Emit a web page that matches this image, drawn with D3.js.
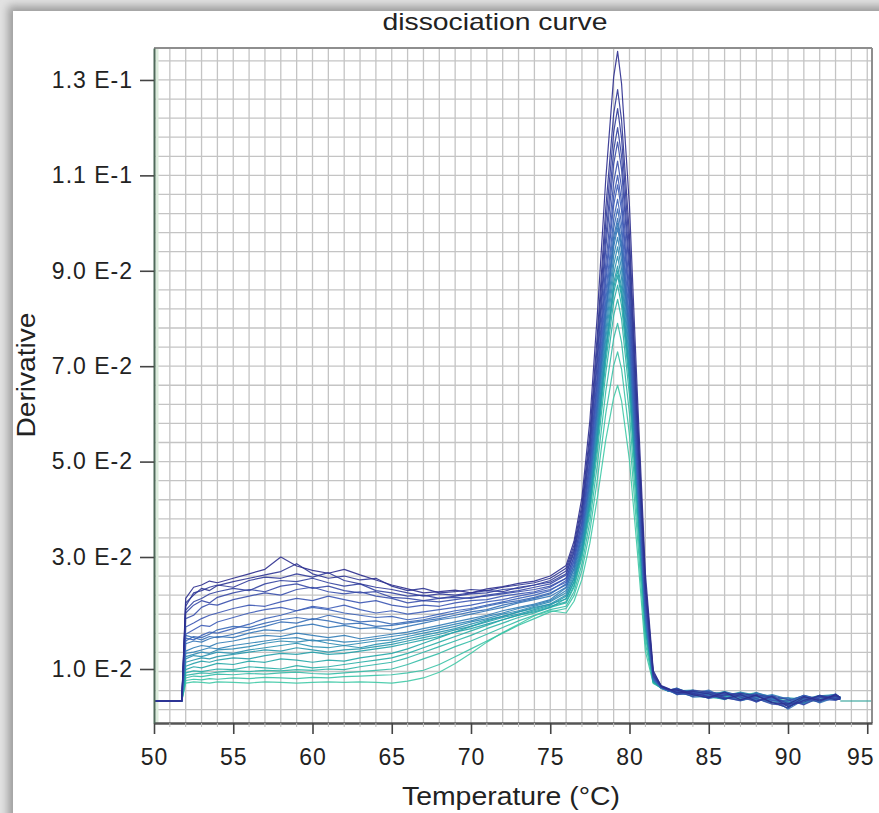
<!DOCTYPE html>
<html><head><meta charset="utf-8">
<script src="https://cdn.jsdelivr.net/npm/d3@7"></script>
<style>html,body{margin:0;padding:0;background:#fff;} svg{display:block;}</style>
</head><body>
<svg id="chart" width="879" height="813"></svg>
<script>
// Temperature samples (°C) shared by all wells
const temps = [50, 51.75, 52, 52.5, 53, 53.5, 54, 55, 56, 57, 58, 59, 60, 61, 62, 63, 64, 65, 66, 67, 68, 69, 70, 71, 72, 73, 74, 75,
  76, 76.5, 77, 77.5, 78, 78.5, 79, 79.25, 79.5, 80, 80.5, 81, 81.5, 82, 82.5,
  83, 84, 85, 86, 87, 88, 89, 90, 91, 92, 93, 93.3];
// Derivative values, in units of 1E-4
const UNIT = 1e-4;
const w01 = [0,0, 226,246,250,257,254,262,270,278,300,284,276,271,278,268,259,250,243,236,238,241,236,243,247,253,257,266, 285,333,425,586,823,1091,1306,1360,1292,1034,639,272,95,46,36, 34,20,10,28,4,18,-6,-10,14,0,20,10];
const w02 = [0,0, 218,232,244,240,249,256,262,268,274,288,270,262,266,259,262,248,240,244,236,238,242,240,246,250,254,262, 280,325,410,560,780,1030,1229,1280,1216,973,602,256,90,48,38, 26,30,22,6,20,0,14,-18,2,16,4,6];
const w03 = [0,0, 212,236,240,246,250,246,258,264,262,270,264,272,258,252,246,242,236,230,234,232,236,240,238,246,250,258, 275,318,400,545,758,999,1190,1240,1178,942,583,248,85,44,34, 38,24,14,18,24,16,-4,-22,12,4,16,12];
const w04 = [0,0, 205,220,226,234,238,244,240,252,258,256,262,254,248,252,240,236,230,232,226,230,234,236,242,244,250,255, 270,312,391,530,735,968,1152,1200,1140,912,564,240,82,47,36, 22,34,28,10,2,20,12,-8,-4,18,8,8];
const w05 = [0,0, 200,214,222,218,228,236,242,238,248,252,244,248,240,236,238,228,226,222,226,228,226,232,236,240,246,252, 268,309,385,521,719,945,1123,1170,1112,889,550,234,80,43,33, 30,14,26,22,12,-2,16,4,-12,10,14,6];
const w06 = [0,0, 190,196,210,216,214,224,230,236,232,242,246,238,234,238,230,226,218,222,220,224,228,230,234,238,242,248, 262,301,375,505,696,913,1085,1130,1074,859,531,226,78,45,35, 20,28,12,24,18,8,-10,-14,8,-4,22,10];
const w07 = [0,0, 175,182,190,196,200,208,214,212,220,226,222,230,224,218,222,214,210,214,212,218,222,224,230,234,238,246, 262,300,371,497,681,890,1056,1100,1045,836,517,220,76,44,34, 40,18,24,8,14,22,2,0,18,6,2,8];
const w08 = [0,0, 162,170,178,176,184,192,200,206,210,204,212,208,214,206,200,204,198,202,206,210,214,220,224,230,236,242, 255,292,362,486,668,874,1037,1080,1026,821,508,216,75,42,32, 28,26,8,20,24,-4,18,-16,0,12,18,10];
const w09 = [0,0, 155,152,160,166,164,172,180,190,196,204,210,206,200,196,192,194,188,192,198,204,208,214,220,226,232,240, 258,294,361,480,654,852,1008,1050,998,798,494,210,74,46,37, 24,20,30,12,0,16,8,10,-10,14,6,6];
const w10 = [0,0, 150,158,156,162,170,176,174,182,188,192,188,196,190,184,186,180,184,188,194,200,206,212,218,222,228,236, 250,285,351,468,640,835,989,1030,979,783,484,206,72,43,33, 34,30,16,26,20,4,-2,-6,14,2,20,12];
const w11 = [0,0, 160,156,152,158,156,162,170,176,184,182,190,186,180,182,176,178,182,186,190,196,202,206,214,220,226,234, 252,286,351,464,631,820,970,1010,960,768,475,202,71,41,31, 22,24,34,10,6,26,12,-26,4,18,8,8];
const w12 = [0,0, 145,150,148,154,158,156,164,170,168,176,180,174,178,172,174,170,176,182,188,192,198,204,210,218,224,230, 246,279,343,454,618,804,950,990,941,752,465,198,69,44,34, 36,12,14,26,18,8,2,0,16,-6,12,10];
const w13 = [0,0, 132,138,142,140,146,150,156,160,158,164,160,156,160,154,158,162,166,172,178,184,190,196,204,210,216,224, 245,279,343,456,623,811,960,1000,950,760,470,200,70,42,33, 26,32,18,4,26,14,6,-12,-2,10,22,8];
const w14 = [0,0, 128,130,134,138,136,142,146,150,154,156,150,152,148,150,154,158,162,168,174,180,186,194,200,208,214,222, 240,273,335,444,605,788,931,970,922,737,456,194,68,40,30, 30,22,28,20,2,10,20,6,0,14,6,6];
const w15 = [0,0, 122,126,130,128,134,136,140,146,150,148,152,146,142,146,150,152,158,164,170,176,184,190,198,204,212,220, 236,268,329,436,593,772,912,950,903,722,447,190,66,43,33, 20,28,16,30,14,0,10,-8,18,4,14,10];
const w16 = [0,0, 118,124,122,126,130,128,134,138,142,146,140,138,142,138,144,148,154,160,166,172,180,188,194,202,210,216, 232,263,323,427,581,756,893,930,884,707,437,186,65,41,31, 34,18,10,16,28,18,-4,-22,10,0,8,8];
const w17 = [0,0, 112,116,120,118,122,126,130,134,132,138,134,130,134,136,140,144,150,156,162,170,176,184,192,198,206,214, 230,261,318,420,570,740,874,910,865,692,428,182,64,44,35, 24,30,22,12,8,24,14,-4,-8,16,20,12];
const w18 = [0,0, 105,110,114,112,116,120,118,124,128,126,130,126,128,132,136,140,146,152,158,166,172,180,188,196,202,210, 226,256,312,412,558,724,854,890,846,676,418,178,62,40,30, 32,34,14,8,20,2,4,10,6,-2,14,8];
const w19 = [0,0, 98,104,102,106,110,108,114,112,118,116,112,116,114,120,124,128,136,146,156,166,176,186,194,202,208,216, 225,255,313,414,563,731,864,900,855,684,423,180,63,42,33, 40,22,20,28,10,16,10,-10,2,12,6,6];
const w20 = [0,0, 88,94,92,96,100,98,104,102,100,106,102,104,108,112,116,120,128,138,148,158,168,178,188,196,204,212, 220,249,305,402,545,708,835,870,827,661,409,174,61,40,31, 26,16,30,14,22,6,-6,2,16,4,16,10];
const w21 = [0,0, 80,84,88,86,90,94,92,96,94,98,96,100,98,104,108,112,120,130,140,150,160,172,182,192,200,210, 218,246,299,392,529,685,806,840,798,638,395,168,59,43,34, 32,32,12,6,16,26,6,-4,-2,14,8,8];
const w22 = [0,0, 72,78,76,80,84,82,86,84,88,90,86,84,88,92,96,100,108,118,128,140,150,162,174,186,196,206, 212,238,287,374,501,646,758,790,750,600,371,158,58,41,32, 24,22,24,20,2,12,16,-14,12,0,18,12];
const w23 = [0,0, 64,68,66,70,68,72,70,74,72,70,74,72,76,78,80,82,88,96,108,122,136,150,164,178,190,202, 208,231,276,354,469,600,701,730,694,555,343,146,56,40,30, 36,18,10,14,26,0,8,6,4,18,4,6];
const w24 = [0,0, 56,60,58,56,60,58,56,60,58,56,58,60,58,60,58,56,62,72,90,110,128,148,165,180,195,204, 200,221,260,329,430,545,634,660,627,502,310,132,55,42,33, 30,28,26,24,12,18,0,-2,-6,6,12,10];
const wells = [w01,w02,w03,w04,w05,w06,w07,w08,w09,w10,w11,w12,w13,w14,w15,w16,w17,w18,w19,w20,w21,w22,w23,w24];
// Trailing baseline after the last reading
const baseTemps = [93.3, 95.3];
const baseValues = [0, 0];
// Axes
const xTickValues = [50, 55, 60, 65, 70, 75, 80, 85, 90, 95];
const yTickValues = [0.13, 0.11, 0.09, 0.07, 0.05, 0.03, 0.01];
const yTickLabels = ["1.3 E-1", "1.1 E-1", "9.0 E-2", "7.0 E-2", "5.0 E-2", "3.0 E-2", "1.0 E-2"];

wells.forEach((w, i) => { if (w.length !== temps.length) throw new Error("well " + (i + 1) + " has " + w.length); });

const W = 879, H = 813;
const L = 154, R = 872, T = 48, B = 723;
const svg = d3.select("#chart");
const defs = svg.append("defs");
defs.append("filter").attr("id", "blur").attr("x", "-10%").attr("y", "-10%").attr("width", "120%").attr("height", "120%")
  .append("feGaussianBlur").attr("stdDeviation", 4);
defs.append("clipPath").attr("id", "plotclip").append("rect")
  .attr("x", L).attr("y", T).attr("width", R - L).attr("height", B - T);

// card background with shadow
svg.append("rect").attr("width", W).attr("height", H).attr("fill", "#e2e2e2");
svg.append("rect").attr("x", 8).attr("y", 6).attr("width", W + 40).attr("height", H + 40)
  .attr("fill", "#9c9c9c").attr("filter", "url(#blur)");
svg.append("rect").attr("x", 13).attr("y", 11).attr("width", W).attr("height", H).attr("fill", "#fff");

const x = d3.scaleLinear().domain([50, 95.3]).range([L, R]);
const y = d3.scaleLinear().domain([-0.0069, 0, 0.01, 0.03, 0.1367]).range([B, 701, 669, 557, T]);
const yGrid = d3.scaleLinear().domain([0.03, 0.13]).range([y(0.03), y(0.13)]);

// grid
const g = svg.append("g");
const gridV = d3.range(51, 96, 1);
g.selectAll("line.gv").data(gridV).join("line")
  .attr("x1", d => x(d)).attr("x2", d => x(d)).attr("y1", T).attr("y2", B)
  .attr("stroke", "#c4c4c4").attr("stroke-width", 1.3);
const gridH = d3.range(-1, 34).map(k => 0.13 - 0.004 * k).filter(v => yGrid(v) > T + 1 && yGrid(v) < B - 1);
g.selectAll("line.gh").data(gridH).join("line")
  .attr("x1", L).attr("x2", R).attr("y1", d => yGrid(d)).attr("y2", d => yGrid(d))
  .attr("stroke", "#c4c4c4").attr("stroke-width", 1.3);
g.append("line").attr("x1", L + 3).attr("x2", L + 3).attr("y1", T).attr("y2", B)
  .attr("stroke", "#dcecdc").attr("stroke-width", 3);

// curves
const color = d3.scaleLinear().domain([0, 7, 13, 18, 23])
  .range(["#2c2e8e", "#3d5cb8", "#2f82b6", "#21a7a6", "#3fc9a6"]);
const line = d3.line().x((d, i) => x(temps[i])).y(d => y(d * UNIT));
const cg = svg.append("g").attr("clip-path", "url(#plotclip)");
const order = wells.map((w, i) => i).reverse();
cg.selectAll("path.well").data(order).join("path")
  .attr("d", i => line(wells[i]))
  .attr("fill", "none").attr("stroke", i => color(i))
  .attr("stroke-width", 1.2).attr("stroke-opacity", 0.9).attr("stroke-linejoin", "round");
cg.append("path")
  .attr("d", d3.line().x((d, i) => x(baseTemps[i])).y(d => y(d))(baseValues))
  .attr("fill", "none").attr("stroke", "#3fa8a0").attr("stroke-width", 1.2);

// frame
svg.append("line").attr("x1", L).attr("x2", R).attr("y1", T).attr("y2", T).attr("stroke", "#8e8e8e").attr("stroke-width", 2);
svg.append("line").attr("x1", R).attr("x2", R).attr("y1", T).attr("y2", B).attr("stroke", "#8e8e8e").attr("stroke-width", 2);

// x axis
const font = "'Liberation Sans', Arial, sans-serif";
const xAxis = svg.append("g").attr("transform", `translate(0,${B})`)
  .call(d3.axisBottom(x).tickValues(xTickValues).tickSize(11).tickSizeOuter(0).tickPadding(15).tickFormat(d3.format("d")));
xAxis.select(".domain").attr("stroke", "#555").attr("stroke-width", 2.5);
xAxis.selectAll(".tick line").attr("stroke", "#444").attr("stroke-width", 1.6);
xAxis.selectAll(".tick text").attr("fill", "#222").style("font-family", font)
  .style("font-size", "23px").style("letter-spacing", "1px")
  .attr("dx", d => d === 95 ? -7 : 0);
svg.append("g").selectAll("line").data(d3.range(51, 96, 1).filter(d => d % 5 !== 0)).join("line")
  .attr("x1", d => x(d)).attr("x2", d => x(d)).attr("y1", B).attr("y2", B + 4)
  .attr("stroke", "#bbb").attr("stroke-width", 1);

// y axis
const yAxis = svg.append("g").attr("transform", `translate(${L},0)`)
  .call(d3.axisLeft(y).tickValues(yTickValues).tickSize(14).tickSizeOuter(0).tickPadding(7)
    .tickFormat((d, i) => yTickLabels[i]));
yAxis.select(".domain").attr("stroke", "#4f6a5a").attr("stroke-width", 2);
yAxis.selectAll(".tick line").attr("stroke", "#444").attr("stroke-width", 1.6);
yAxis.selectAll(".tick text").attr("fill", "#222").style("font-family", font)
  .style("font-size", "23px").style("letter-spacing", "1px");

// titles
svg.append("text").attr("x", 495).attr("y", 30).attr("text-anchor", "middle")
  .attr("textLength", 225).attr("lengthAdjust", "spacingAndGlyphs")
  .style("font-family", font).style("font-size", "24px").attr("fill", "#222").text("dissociation curve");
svg.append("text").attr("x", 511).attr("y", 805).attr("text-anchor", "middle")
  .attr("textLength", 218).attr("lengthAdjust", "spacingAndGlyphs")
  .style("font-family", font).style("font-size", "25px").attr("fill", "#222").text("Temperature (°C)");
svg.append("text").attr("transform", "translate(35,375) rotate(-90)").attr("text-anchor", "middle")
  .attr("textLength", 125).attr("lengthAdjust", "spacingAndGlyphs")
  .style("font-family", font).style("font-size", "25px").attr("fill", "#222").text("Derivative");
</script>
</body></html>
